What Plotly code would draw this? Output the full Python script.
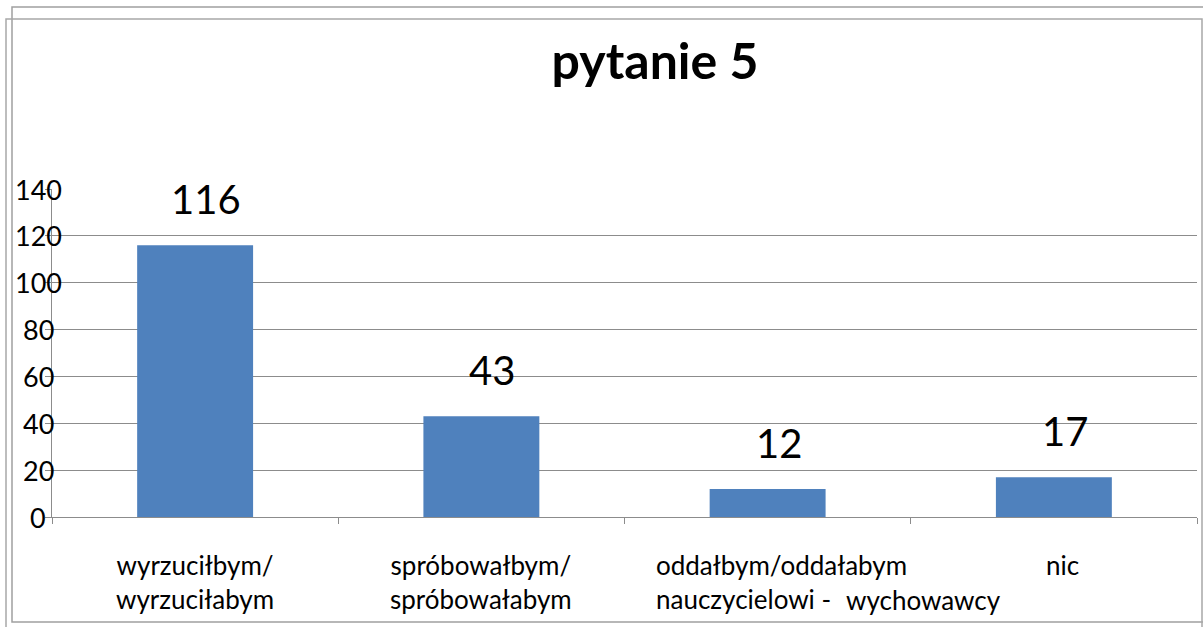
import plotly.graph_objects as go

categories = ["wyrzuciłbym/wyrzuciłabym", "spróbowałbym/spróbowałabym",
              "oddałbym/oddałabym nauczycielowi - wychowawcy", "nic"]
values = [116, 43, 12, 17]
category_labels = ["wyrzuciłbym/<br>wyrzuciłabym", "spróbowałbym/<br>spróbowałabym",
                   "oddałbym/oddałabym<br>nauczycielowi - ", "nic"]
label_tail = "wychowawcy"
y_ticks = [0, 20, 40, 60, 80, 100, 120, 140]
title_text = "pytanie 5"

W, H = 1203, 627
L, R, T, B = 52, 6, 189, 110
pw, ph = W - L - R, H - T - B
FONT = "Lato"
GRID = "#8c8c8c"


def px_x(p):
    return (p - L) / pw


def px_y(p):
    return (H - B - p) / ph


fig = go.Figure(go.Bar(x=categories, y=values, marker_color="#4f81bd",
                       marker_line_width=0, hoverinfo="skip"))

# value labels above each bar
for c, v in zip(categories, values):
    fig.add_annotation(x=c, y=v, text=str(v), showarrow=False, xref="x", yref="y",
                       yanchor="bottom", xshift=11, yshift=20,
                       font=dict(family=FONT, size=40, color="#000"))

# y tick labels, centred in the left gutter
for t in y_ticks:
    fig.add_annotation(x=px_x(38), y=t, xref="paper", yref="y", text=str(t),
                       showarrow=False, xanchor="center", yanchor="middle",
                       font=dict(family=FONT, size=27, color="#000"))

# category labels under the axis
lab_font = dict(family=FONT, size=26, color="#000")
for i, (c, lab) in enumerate(zip(categories, category_labels)):
    if i == 2:
        fig.add_annotation(x=c, y=0, xref="x", yref="y", text=lab, showarrow=False,
                           xanchor="left", xshift=-114, yanchor="top", yshift=-30,
                           align="left", font=lab_font)
        fig.add_annotation(x=c, y=0, xref="x", yref="y", text=label_tail, showarrow=False,
                           xanchor="left", xshift=76, yanchor="middle", yshift=-83,
                           align="left", font=lab_font)
    else:
        xs = 9 if i == 3 else 0
        fig.add_annotation(x=c, y=0, xref="x", yref="y", text=lab, showarrow=False,
                           yanchor="top", yshift=-30, xshift=xs, align="center",
                           font=lab_font)

fig.update_layout(
    width=W, height=H,
    margin=dict(l=L, r=R, t=T, b=B, autoexpand=False),
    paper_bgcolor="white", plot_bgcolor="white",
    showlegend=False,
    bargap=0.595,
    title=dict(text="<b>" + title_text + "</b>", x=655 / W, xref="container", xanchor="center",
               y=1 - 61 / H, yref="container", yanchor="middle",
               font=dict(family=FONT, size=50, color="#000")),
    xaxis=dict(showline=True, linecolor=GRID, linewidth=1, ticks="outside",
               tickson="boundaries", ticklen=6, tickcolor=GRID, showticklabels=False,
               showgrid=False, fixedrange=True, automargin=False),
    yaxis=dict(range=[0, 140], tickvals=y_ticks, showline=True, linecolor=GRID,
               linewidth=1, ticks="outside", ticklen=6, tickcolor=GRID,
               showgrid=True, gridcolor=GRID, gridwidth=1, zeroline=False,
               showticklabels=False, automargin=False, fixedrange=True),
    shapes=[
        dict(type="rect", xref="paper", yref="paper", x0=px_x(12), x1=px_x(1215),
             y0=px_y(622), y1=px_y(7), line=dict(color="#a0a0a0", width=1.5)),
        dict(type="rect", xref="paper", yref="paper", x0=px_x(6), x1=px_x(1202),
             y0=px_y(640), y1=px_y(19), line=dict(color="#a8a8a8", width=1.5)),
    ],
)

fig.write_html("out.html")
